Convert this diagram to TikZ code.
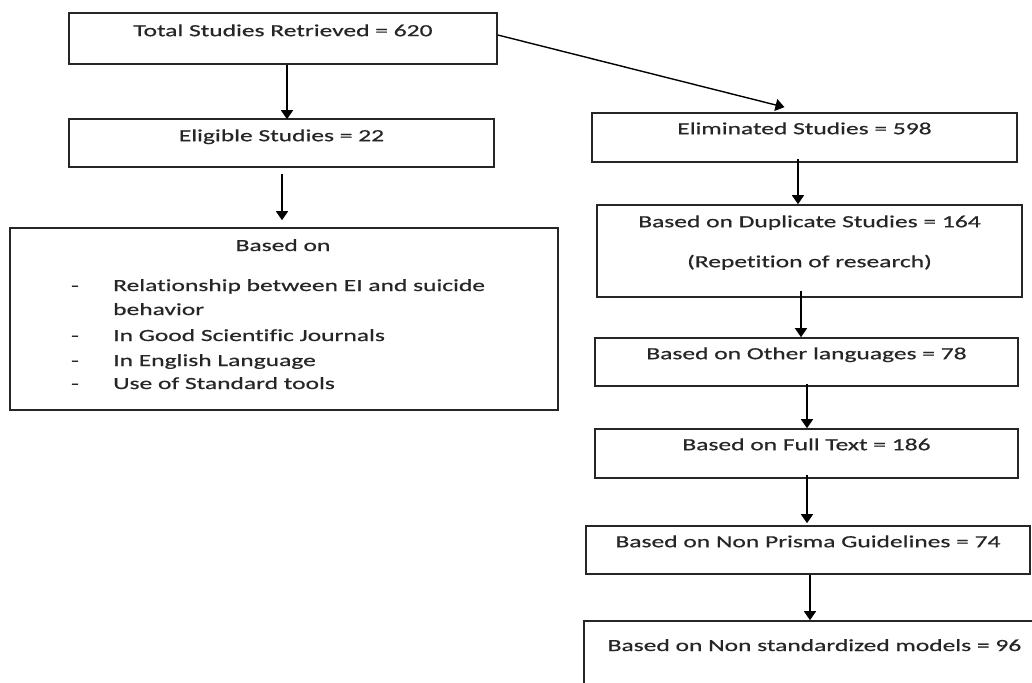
\documentclass[tikz,border=0pt]{standalone}
\usepackage{fontspec}
\setmainfont{Carlito}[FakeStretch=1.5,FakeBold=0.6,Ligatures=NoCommon]
\usetikzlibrary{arrows.meta,calc}
\tikzset{
  box/.style={draw=black!85, line width=1.6pt, rectangle, inner sep=0pt},
  txt/.style={inner sep=0pt, text height=12pt, text depth=4pt, font=\fontsize{17pt}{24pt}\selectfont, text=black!85},
  arr/.style={draw=black, line width=1.4pt, -{Triangle[width=12pt,length=9pt]}}
}
\begin{document}
\begin{tikzpicture}[x=1pt,y=-1pt]
\useasboundingbox (0,0) rectangle (1032,682);
\clip (0,0) rectangle (1032,682);
% left column
\node[box, minimum width=428pt, minimum height=51pt] (total) at (283,38.5) {};
\node[txt] (totalT) at ([yshift=-20pt]total.north) {Total Studies Retrieved = 620};
\node[box, minimum width=425pt, minimum height=48pt] (elig) at (281.5,143) {};
\node[txt] (eligT) at ([yshift=-19pt]elig.north) {Eligible Studies = 22};
\node[box, minimum width=548pt, minimum height=182pt] (based) at (284,319) {};
\node[txt] (basedT) at (283,247) {Based on};
\node[txt] (d1) at (75,287) {-};
\node[txt, anchor=west] (i1) at (113,287) {Relationship between EI and suicide};
\node[txt, anchor=west] (i1b) at (113,311) {behavior};
\node[txt] (d2) at (75,337) {-};
\node[txt, anchor=west] (i2) at (113,337) {In Good Scientific Journals};
\node[txt] (d3) at (75,362) {-};
\node[txt, anchor=west] (i3) at (113,362) {In English Language};
\node[txt] (d4) at (75,385) {-};
\node[txt, anchor=west] (i4) at (113,385) {Use of Standard tools};
% right column
\node[box, minimum width=425pt, minimum height=49pt] (elim) at (804.5,137.5) {};
\node[txt] (elimT) at ([yshift=-18pt]elim.north) {Eliminated Studies = 598};
\node[box, minimum width=425pt, minimum height=92pt] (dup) at (809.5,251) {};
\node[txt] (dupT) at ([yshift=-19pt]dup.north) {Based on Duplicate Studies = 164};
\node[txt] (dupT2) at ([yshift=-59pt]dup.north) {(Repetition of research)};
\node[box, minimum width=423pt, minimum height=48pt] (other) at (806.5,362) {};
\node[txt] (otherT) at ([yshift=-18pt]other.north) {Based on Other languages = 78};
\node[box, minimum width=423pt, minimum height=49pt] (full) at (806.5,453.5) {};
\node[txt] (fullT) at ([yshift=-18pt]full.north) {Based on Full Text = 186};
\node[box, minimum width=444pt, minimum height=48pt] (prisma) at (808,550) {};
\node[txt] (prismaT) at ([yshift=-18pt]prisma.north) {Based on Non Prisma Guidelines = 74};
\node[box, minimum width=470pt, minimum height=100pt] (nonstd) at (819,671) {};
\node[txt] (nonstdT) at (814.5,647) {Based on Non standardized models = 96};
% arrows
\draw[arr] ([xshift=4pt]total.south) -- ([xshift=4pt,yshift=-1pt]total.south |- elig.north);
\draw[arr] ([yshift=3.5pt]total.east) -- ([xshift=-20pt,yshift=5pt]elim.north);
\draw[arr] ([xshift=0.5pt,yshift=-6pt]elig.south) -- ([xshift=0.5pt,yshift=7pt]elig.south |- based.north);
\draw[arr] ([xshift=-6.5pt,yshift=4pt]elim.south) -- ([xshift=-6.5pt]elim.south |- dup.north);
\draw[arr] ([xshift=-8.5pt,yshift=7pt]dup.south) -- ([xshift=-8.5pt]dup.south |- other.north);
\draw[arr] ([xshift=0.5pt,yshift=3pt]other.south) -- ([xshift=0.5pt]other.south |- full.north);
\draw[arr] ([xshift=0.5pt,yshift=4pt]full.south) -- ([xshift=0.5pt,yshift=2pt]full.south |- prisma.north);
\draw[arr] ([xshift=2pt]prisma.south) -- ([xshift=2pt]prisma.south |- nonstd.north);
\end{tikzpicture}
\end{document}
